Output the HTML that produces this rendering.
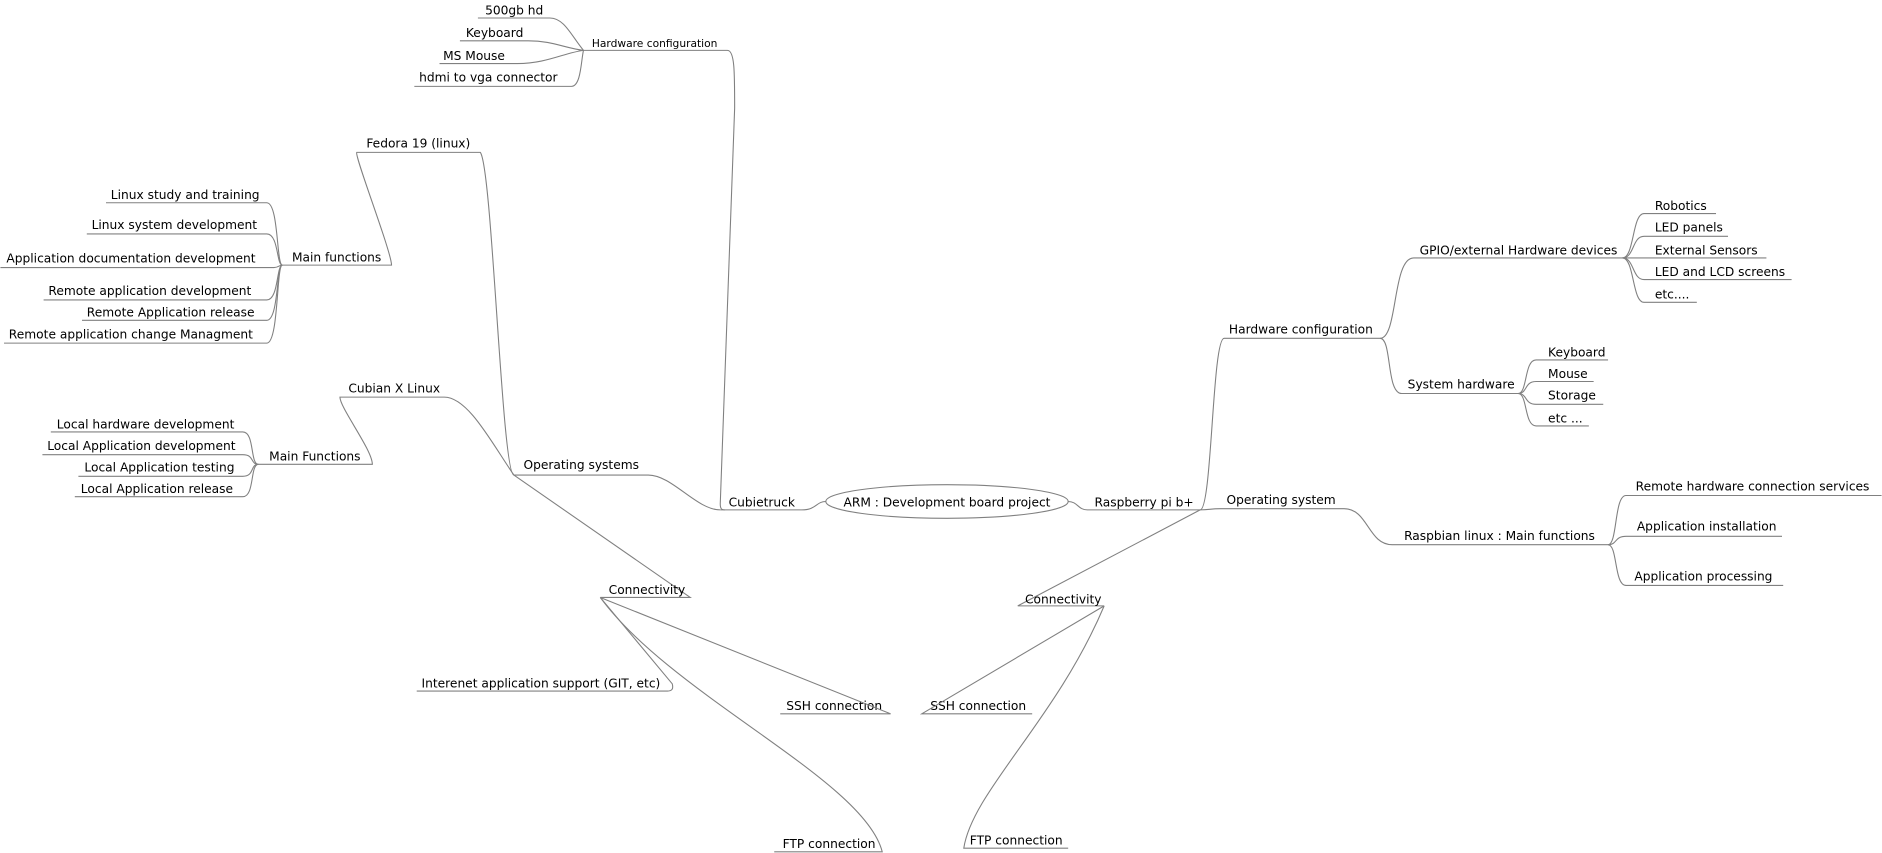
<!DOCTYPE html>
<html><head><meta charset="utf-8"><style>
html,body{margin:0;padding:0;background:#fff;}
svg{display:block;}
text{font-family:"DejaVu Sans","Liberation Sans",sans-serif;font-size:10.2px;fill:#000;}
.s{font-size:8.9px;}
path,line{stroke:#808080;stroke-width:0.9;fill:none;}
</style></head><body>
<svg width="1882" height="853" viewBox="0 0 1568 711" xmlns="http://www.w3.org/2000/svg">
<text x="404" y="12">500gb hd</text><path d="M398 15 H458 C470 15 476 30 486 42"/>
<text x="388" y="31">Keyboard</text><path d="M383 34 H440 C460 34 470 40 486 42"/>
<text x="369" y="50">MS Mouse</text><path d="M366 53 H431 C455 53 470 44 486 42"/>
<text x="349" y="68">hdmi to vga connector</text><path d="M345 72 H476 C484 72 484 50 486 42"/>
<text class="s" x="493" y="39">Hardware configuration</text><path d="M486 42 H606 C612 42 612 60 612 90 L600 420 C600 424 601 425 604 425"/>
<text x="607" y="422">Cubietruck</text><path d="M600 425 H668 C680 425 680 418 688 418"/>
<ellipse cx="789" cy="418" rx="101" ry="14" fill="none" stroke="#808080" stroke-width="0.9"/>
<text x="789" y="422" text-anchor="middle">ARM : Development board project</text>
<path d="M890 418 C898 418 898 425 906 425 H1000"/>
<text x="912" y="422">Raspberry pi b+</text>
<path d="M1000 425 C1010 425 1010 282 1020 282 H1150"/>
<text x="1024" y="278">Hardware configuration</text>
<path d="M1150 282 C1165 282 1160 215 1178 215 H1352"/>
<text x="1183" y="212">GPIO/external Hardware devices</text>
<path d="M1150 282 C1160 282 1155 328 1168 328 H1265"/>
<text x="1173" y="324">System hardware</text>
<text x="1379" y="175">Robotics</text><path d="M1352 215 C1362 215 1360 178 1370 178 H1430"/>
<text x="1379" y="193">LED panels</text><path d="M1352 215 C1362 215 1360 197 1370 197 H1440"/>
<text x="1379" y="212">External Sensors</text><path d="M1352 215 H1472"/>
<text x="1379" y="230">LED and LCD screens</text><path d="M1352 215 C1362 215 1360 233 1370 233 H1493"/>
<text x="1379" y="249">etc....</text><path d="M1352 215 C1362 215 1360 252 1370 252 H1414"/>
<text x="1290" y="297">Keyboard</text><path d="M1265 328 C1273 328 1270 300 1280 300 H1340"/>
<text x="1290" y="315">Mouse</text><path d="M1265 328 C1273 328 1270 318 1280 318 H1328"/>
<text x="1290" y="333">Storage</text><path d="M1265 328 C1273 328 1270 337 1280 337 H1336"/>
<text x="1290" y="352">etc ...</text><path d="M1265 328 C1273 328 1270 355 1280 355 H1324"/>
<path d="M1000 425 C1008 425 1008 424 1017 424 H1120 C1140 424 1140 454 1160 454 H1340"/>
<text x="1022" y="420">Operating system</text>
<text x="1170" y="450">Raspbian linux  : Main functions</text>
<text x="1363" y="409">Remote hardware connection services</text><path d="M1340 454 C1348 454 1345 413 1355 413 H1568"/>
<text x="1364" y="442">Application installation</text><path d="M1340 454 C1348 454 1345 447 1355 447 H1485"/>
<text x="1362" y="484">Application processing</text><path d="M1340 454 C1348 454 1345 488 1355 488 H1486"/>
<path d="M1000 425 L848 505 H920"/>
<text x="854" y="503">Connectivity</text>
<text x="775" y="592">SSH connection</text><path d="M920 505 L768 595 H860"/>
<text x="808" y="704">FTP connection</text><path d="M920 505 C880 600 810 660 803 707 H890"/>
<path d="M600 425 C580 425 560 396 540 396 H428"/>
<text x="436" y="391">Operating systems</text>
<path d="M428 396 C418 396 410 140 400 127 H297 C295 130 326 210 326 221 H235"/>
<text x="305" y="123">Fedora 19 (linux)</text>
<text x="243" y="218">Main functions</text>
<text x="92" y="166">Linux study and training</text><path d="M235 221 C230 221 232 169 222 169 H88"/>
<text x="76" y="191">Linux system development</text><path d="M235 221 C230 221 232 195 222 195 H72"/>
<text x="5" y="219">Application documentation development</text><path d="M235 221 C232 221 232 223 228 223 H0"/>
<text x="40" y="246">Remote application development</text><path d="M235 221 C230 221 232 250 222 250 H36"/>
<text x="72" y="264">Remote Application release</text><path d="M235 221 C230 221 232 267 222 267 H68"/>
<text x="7" y="282">Remote application change Managment</text><path d="M235 221 C230 221 232 286 222 286 H3"/>
<path d="M428 396 C410 370 390 331 370 331 H283 C283 340 310 375 310 387 H215"/>
<text x="290" y="327">Cubian X Linux</text>
<text x="224" y="384">Main Functions</text>
<text x="47" y="357">Local hardware development</text><path d="M215 387 C208 387 212 360 202 360 H42"/>
<text x="39" y="375">Local Application development</text><path d="M215 387 C208 387 212 379 202 379 H35"/>
<text x="70" y="393">Local Application testing</text><path d="M215 387 C208 387 212 397 202 397 H65"/>
<text x="67" y="411">Local Application release</text><path d="M215 387 C208 387 212 414 202 414 H62"/>
<path d="M428 396 L575 498 H500"/>
<text x="507" y="495">Connectivity</text>
<text x="351" y="573">Interenet application support (GIT, etc)</text><path d="M500 498 L560 570 C561 574 560 576 556 576 H347"/>
<text x="655" y="592">SSH connection</text><path d="M500 498 L742 595 H650"/>
<text x="652" y="707">FTP connection</text><path d="M500 498 C560 580 720 650 735 710 H645"/>
</svg>
</body></html>
